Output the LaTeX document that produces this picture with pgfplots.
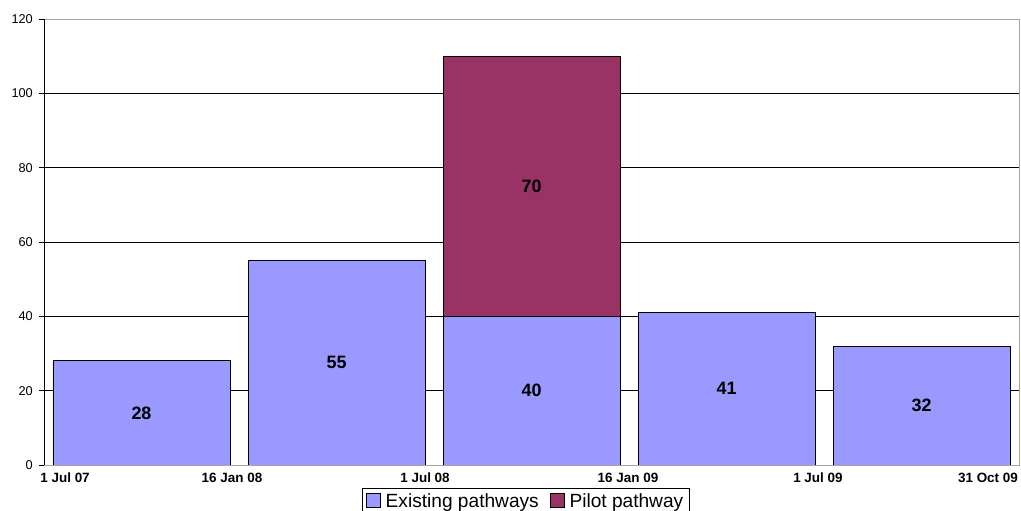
\documentclass[border=0pt]{standalone}
\usepackage{pgfplots}
\pgfplotsset{compat=1.18}
\usepackage{fontspec}
\setmainfont{Liberation Sans}
\definecolor{existing}{HTML}{9999FF}
\definecolor{pilot}{HTML}{993366}
\begin{document}
\begin{tikzpicture}
\begin{axis}[
  scale only axis, width=975bp, height=446bp,
  xmin=0, xmax=5, ymin=0, ymax=120,
  ybar stacked, bar width=0.9077,
  ytick={0,20,...,120},
  ymajorgrids, major grid style={black, line width=0.7bp},
  axis line style={draw=gray!70, line width=0.8bp},
  tick align=outside, ytick pos=left,
  major tick length=5bp,
  ytick style={black, line width=0.8bp},
  xtick style={draw=none},
  /pgf/number format/assume math mode=true,
  yticklabel style={font=\fontsize{12.8}{14}\selectfont, inner sep=0pt, anchor=east, xshift=-6bp},
  xtick={0.108,0.964,1.954,2.995,3.969,4.841},
  xticklabels={1 Jul 07, 16 Jan 08, 1 Jul 08, 16 Jan 09, 1 Jul 09, 31 Oct 09},
  xticklabel style={font=\bfseries\fontsize{13.5}{15}\selectfont, inner sep=0pt, anchor=north, yshift=-3bp},
  legend columns=2,
  legend style={at={(0.494,0)}, anchor=north, yshift=-23bp, draw=black, line width=0.8bp,
    font=\fontsize{19.2}{22}\selectfont, inner xsep=4bp, inner ysep=3bp,
    /tikz/every odd column/.append style={column sep=3bp},
    /tikz/every even column/.append style={column sep=9bp}},
]
\addplot[fill=existing, draw=black, line width=0.9bp,
  legend image code/.code={\draw[fill=existing, draw=black, line width=0.7bp] (0bp,-6bp) rectangle (14bp,8bp);}]
  coordinates {(0.5,28) (1.5,55) (2.5,40) (3.5,41) (4.5,32)};
\addlegendentry{Existing pathways}
\addplot[fill=pilot, draw=black, line width=0.9bp,
  legend image code/.code={\draw[fill=pilot, draw=black, line width=0.7bp] (0bp,-6bp) rectangle (14bp,8bp);}]
  coordinates {(0.5,0) (1.5,0) (2.5,70) (3.5,0) (4.5,0)};
\addlegendentry{Pilot pathway}
\draw[black, line width=0.9bp] (rel axis cs:0,1) -- (rel axis cs:0,0) -- (rel axis cs:1,0);
\draw[gray!70, line width=0.8bp] (rel axis cs:0,1) -- (rel axis cs:1,1) -- (rel axis cs:1,0);
\end{axis}
\begin{axis}[
  scale only axis, width=975bp, height=446bp,
  xmin=0, xmax=5, ymin=0, ymax=120,
  hide axis,
]
\addplot[only marks, mark=none, nodes near coords, point meta=explicit symbolic,
  nodes near coords align=center,
  every node near coord/.append style={font=\bfseries\fontsize{18}{20}\selectfont, anchor=center, inner sep=0pt}]
  coordinates {(0.5,14)[28] (1.5,27.5)[55] (2.5,20)[40] (2.5,75)[70] (3.5,20.5)[41] (4.5,16)[32]};
\end{axis}
\pgfresetboundingbox
\useasboundingbox (-44bp,-46bp) rectangle (977bp,465bp);
\end{tikzpicture}
\end{document}
